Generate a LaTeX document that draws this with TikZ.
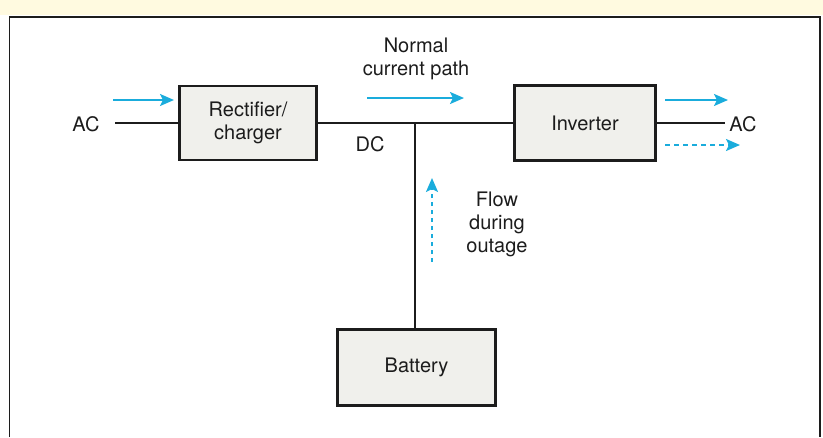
\documentclass[tikz,border=0pt]{standalone}
\usepackage{fontspec}
\setmainfont{TeX Gyre Heros}
\usetikzlibrary{positioning,arrows.meta}
\definecolor{UPSpaper}{HTML}{FFFAE0}
\definecolor{UPSbox}{HTML}{F0F0EC}
\definecolor{UPScyan}{HTML}{1AACDC}
\definecolor{UPSink}{HTML}{1C1C1C}
\newcommand{\upsfont}{\fontsize{20}{23}\selectfont}
\tikzset{
  unitbox/.style={draw=UPSink, line width=2.8pt, fill=UPSbox, align=center, font=\upsfont, text=UPSink, inner sep=0pt},
  wire/.style={draw=UPSink, line width=2.2pt},
  flowarr/.style={-{Stealth[length=14pt, width=12pt, inset=3pt]}, draw=UPScyan, line width=2.2pt},
  outagearr/.style={flowarr, dash pattern=on 5pt off 4pt},
  txt/.style={font=\upsfont, align=center, text=UPSink, inner sep=0pt}
}

\begin{document}
\begin{tikzpicture}[x=1pt, y=-1pt]
\useasboundingbox (0,0) rectangle (823,437);
\fill[UPSpaper] (0,0) rectangle (823,15);
\draw[UPSink, line width=1.6pt] (9.5,437) -- (9.5,17) -- (820,17) -- (820,437);
% blocks
\node[unitbox, minimum width=137pt, minimum height=74pt] (rect) at (248,123) {Rectifier/\\charger};
\node[unitbox, minimum width=141pt, minimum height=75pt] (inv) at (585,123) {Inverter};
\node[unitbox, minimum width=158pt, minimum height=76pt] (batt) at (416.5,367.5) {Battery};
% texts
\node[txt] (acin) at (86,124) {AC};
\node[txt] (acout) at (743,124) {AC};
\node[txt] (dc) at (370,144) {DC};
\node[txt] (normal) at (416,59) {Normal\\current path};
\node[txt] (outage) at (497,224) {Flow\\during\\outage};
% wiring
\coordinate (acinend) at (115,123);
\coordinate (acoutend) at (725,123);
\coordinate (bus) at (415,123);
\draw[wire] (acinend) -- (rect.west);
\draw[wire] (rect.east) -- (inv.west);
\draw[wire] (inv.east) -- (acoutend);
\draw[wire] (bus) -- (bus |- batt.north);
% flow arrows
\coordinate (f1a) at (113,100);  \coordinate (f1b) at (174,100);
\coordinate (f2a) at (367,98);   \coordinate (f2b) at (464,98);
\coordinate (f3a) at (665,100);  \coordinate (f3b) at (728,100);
\coordinate (f4a) at (665,145);  \coordinate (f4b) at (740,145);
\coordinate (f5a) at (432,262);  \coordinate (f5b) at (432,178);
\draw[flowarr] (f1a) -- (f1b);
\draw[flowarr] (f2a) -- (f2b);
\draw[flowarr] (f3a) -- (f3b);
\draw[outagearr] (f4a) -- (f4b);
\draw[flowarr, dash pattern=on 4pt off 4pt] (f5a) -- (f5b);
\end{tikzpicture}
\end{document}
